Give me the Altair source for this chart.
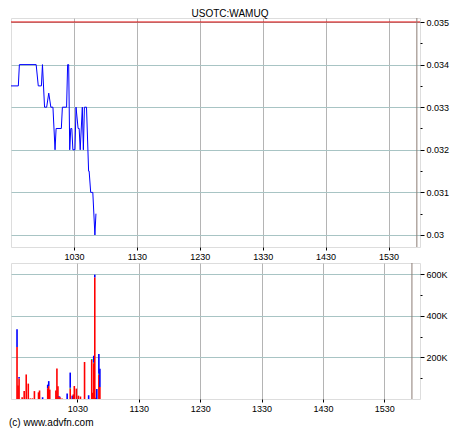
import altair as alt
import pandas as pd

# ---- data (times are minutes after midnight) ----
price_times = [570, 577, 578, 594, 596, 599, 600, 602, 604, 606, 608, 610, 612, 613,
               618, 619, 623, 624, 625, 626, 627, 628, 629, 631, 632, 634, 635, 636,
               638, 639, 640, 642, 644, 644.5, 646, 648, 650, 651]
price_values = [0.0335, 0.0335, 0.034, 0.034, 0.0335, 0.0335, 0.034, 0.033, 0.033, 0.03333,
                0.033, 0.033, 0.032, 0.0325, 0.0325, 0.033, 0.033, 0.034, 0.034, 0.032,
                0.0325, 0.0325, 0.032, 0.032, 0.033, 0.0325, 0.0325, 0.032, 0.033, 0.032,
                0.033, 0.033, 0.0315, 0.0315, 0.031, 0.031, 0.030, 0.0305]
prev_close = [0.035]
marker_time = [957]
title_text = ["USOTC:WAMUQ"]
credit_text = ["(c) www.advfn.com"]

vol_times = [571, 572, 573, 576, 578, 580, 582, 584, 586, 588, 592, 593, 596, 601, 602, 603,
             609, 610, 611, 612, 613, 615, 620, 623, 625, 626, 627, 629, 631, 633, 637, 641,
             644, 645, 646, 647, 648, 649, 651, 652]
vol_down = [250, 65, 98, 8, 38, 118, 74, 3, 3, 38, 32, 41, 0, 52, 62, 45,
            41, 147, 61, 12, 8, 3, 0, 50, 0, 22, 62, 50, 16, 12, 178, 0,
            188, 30, 172, 585, 6, 0, 118, 58]
vol_flat = [0, 0, 0, 0, 0, 0, 0, 0, 0, 0, 0, 0, 0, 0, 0, 0,
            0, 0, 0, 0, 0, 0, 0, 4, 0, 0, 0, 0, 0, 0, 0, 0,
            4, 0, 3, 0, 0, 0, 3, 0]
vol_up = [86, 0, 8, 0, 0, 0, 0, 0, 0, 0, 0, 0, 9, 17, 24, 0,
          0, 0, 0, 2, 3, 0, 27, 73, 16, 0, 0, 0, 0, 0, 0, 18,
          0, 0, 33, 13, 0, 48, 95, 88]

x_ticks = [630, 690, 750, 810, 870, 930]
price_ticks = [0.030, 0.0305, 0.031, 0.0315, 0.032, 0.0325, 0.033, 0.0335, 0.034, 0.0345, 0.035]
vol_ticks = [100000, 200000, 300000, 400000, 500000, 600000]

# ---- frames ----
price_df = pd.DataFrame({"t": price_times, "p": price_values})
ref_df = pd.DataFrame({"p": prev_close})
mark_df = pd.DataFrame({"t": marker_time})
title_df = pd.DataFrame({"s": title_text})
credit_df = pd.DataFrame({"s": credit_text})
rows = []
for t, d, f, u in zip(vol_times, vol_down, vol_flat, vol_up):
    for kind, v, o in (("down", d, 0), ("flat", f, 1), ("up", u, 2)):
        if v > 0:
            rows.append({"t": t, "v": v * 1000, "kind": kind, "o": o})
vol_df = pd.DataFrame(rows)

FONT = "Liberation Sans"
W = 409
xscale = alt.Scale(domain=[570, 960], nice=False, zero=False)
xaxis = alt.Axis(values=x_ticks,
                 labelExpr="toString(floor(datum.value/60)*100 + datum.value%60)",
                 title=None, grid=True, gridColor="#b4b4b4", tickSize=3, tickColor="black",
                 labelPadding=2, labelFontSize=9, labelFont=FONT, labelColor="black",
                 domain=False, labelFlush=False, minExtent=0)

major_p = "abs(datum.value*1000 - round(datum.value*1000)) < 0.01"
paxis = alt.Axis(values=price_ticks, orient="right", title=None,
                 labelExpr=f"({major_p}) ? format(datum.value, '.3~f') : ''",
                 tickSize={"condition": {"test": major_p, "value": 4}, "value": 2},
                 gridOpacity={"condition": {"test": major_p, "value": 1}, "value": 0},
                 grid=True, gridColor="#a8c4c4", tickColor="black", labelPadding=2,
                 labelFontSize=9, labelFont=FONT, labelColor="black", domain=False)
pscale = alt.Scale(domain=[0.029718, 0.035094], nice=False, zero=False)

major_v = "datum.value % 200000 == 0"
vaxis = alt.Axis(values=vol_ticks, orient="right", title=None,
                 labelExpr=f"({major_v}) ? (datum.value/1000) + 'K' : ''",
                 tickSize={"condition": {"test": major_v, "value": 4}, "value": 2},
                 gridOpacity={"condition": {"test": major_v, "value": 1}, "value": 0},
                 grid=True, gridColor="#a8c4c4", tickColor="black", labelPadding=2,
                 labelFontSize=9, labelFont=FONT, labelColor="black", domain=False)
vscale = alt.Scale(domain=[0, 654000], nice=False, zero=True)

X = lambda: alt.X("t:Q", scale=xscale, axis=xaxis)

price_line = alt.Chart(price_df).mark_line(color="#0000ff", strokeWidth=1).encode(
    x=X(), y=alt.Y("p:Q", scale=pscale, axis=paxis))
ref_rule = alt.Chart(ref_df).mark_rule(color="#e00000", strokeWidth=1).encode(
    y=alt.Y("p:Q", scale=pscale, axis=paxis))
marker_top = alt.Chart(mark_df).mark_rule(color="#8c7c74", strokeWidth=1).encode(x=X())
title_mark = alt.Chart(title_df).mark_text(fontSize=10, font=FONT, color="black",
                                           baseline="middle", align="center").encode(
    x=alt.value(219), y=alt.value(-4), text="s:N")

top = alt.layer(ref_rule, price_line, marker_top, title_mark).properties(width=W, height=229)

bars = alt.Chart(vol_df).mark_bar(size=1.6).encode(
    x=X(),
    y=alt.Y("sum(v):Q", scale=vscale, axis=vaxis, stack="zero"),
    color=alt.Color("kind:N", legend=None,
                    scale=alt.Scale(domain=["down", "flat", "up"],
                                    range=["#ff0000", "#00c000", "#0000ff"])),
    order=alt.Order("o:Q", sort="ascending"))
marker_bot = alt.Chart(mark_df).mark_rule(color="#8c7c74", strokeWidth=1).encode(x=X())
credit = alt.Chart(credit_df).mark_text(fontSize=10, font=FONT, color="black",
                                        baseline="middle", align="left").encode(
    x=alt.value(-2), y=alt.value(160), text="s:N")

bottom = alt.layer(bars, marker_bot, credit).properties(width=W, height=136)

chart = alt.vconcat(top, bottom, spacing=0).properties(padding=0).configure_view(
    stroke="black", strokeWidth=1).configure(background="white")

chart.save("out.html", embed_options={"renderer": "svg", "actions": False})
